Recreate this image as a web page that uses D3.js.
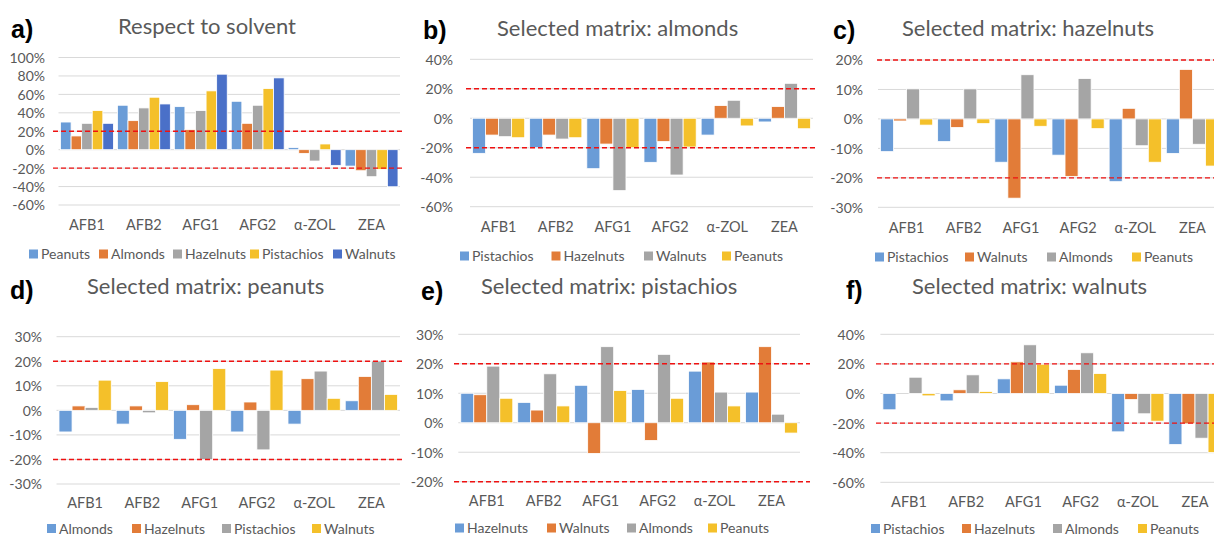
<!DOCTYPE html>
<html>
<head>
<meta charset="utf-8">
<script src="https://cdn.jsdelivr.net/npm/d3@7"></script>
<style>
  html, body { margin: 0; padding: 0; background: #fff; }
  svg { display: block; }
  .tick-label { font-family: Lato, "Open Sans", sans-serif; font-size: 14px; fill: #595959; }
  .cat-label { font-family: Lato, "Open Sans", sans-serif; font-size: 14.5px; fill: #595959; }
  .legend-label { font-family: Lato, "Open Sans", sans-serif; font-size: 14px; fill: #595959; }
  .title { font-family: Lato, "Open Sans", sans-serif; font-size: 22px; fill: #595959; }
  .panel-tag { font-family: "Liberation Sans", Arial, sans-serif; font-weight: bold; font-size: 25px; fill: #000; }
</style>
</head>
<body>
<svg id="chart" width="1214" height="538"></svg>
<script>
// Mycotoxins shown on the x axis of every panel
const categories = ["AFB1", "AFB2", "AFG1", "AFG2", "α-ZOL", "ZEA"];

// Colours in series order (first, second, third ... series of a panel)
const seriesColors = ["#6A9CD7", "#E27C38", "#A5A5A5", "#F4C02A", "#4A70C8"];

// a) matrix effect with respect to solvent (%)
const solventSeries = ["Peanuts", "Almonds", "Hazelnuts", "Pistachios", "Walnuts"];
const solventValues = [
  [30.0, 48.2, 46.7, 52.5, 2.2, -17.8],
  [14.9, 31.5, 21.7, 28.6, -4.0, -22.8],
  [28.6, 45.3, 42.4, 48.2, -12.3, -29.3],
  [42.4, 56.9, 63.8, 66.3, 6.2, -21.4],
  [28.6, 49.6, 81.9, 77.9, -17.0, -40.2]
];
const solventTicks = [-60, -40, -20, 0, 20, 40, 60, 80, 100];

// b) selected matrix: almonds
const almondsSeries = ["Pistachios", "Hazelnuts", "Walnuts", "Peanuts"];
const almondsValues = [
  [-23.8, -20.0, -34.2, -29.9, -11.4, -2.5],
  [-11.4, -11.4, -17.5, -15.8, 8.6, 7.9],
  [-12.5, -14.1, -49.1, -38.5, 12.2, 23.7],
  [-13.2, -13.2, -20.0, -19.5, -5.2, -7.1]
];
const almondsTicks = [-60, -40, -20, 0, 20, 40];

// c) selected matrix: hazelnuts
const hazelnutsSeries = ["Pistachios", "Walnuts", "Almonds", "Peanuts"];
const hazelnutsValues = [
  [-11.1, -7.7, -14.7, -12.3, -21.3, -11.7],
  [-0.7, -2.9, -26.9, -19.5, 3.6, 16.8],
  [10.2, 10.2, 15.0, 13.7, -9.1, -8.6],
  [-2.1, -1.6, -2.5, -3.3, -14.7, -16.0]
];
const hazelnutsTicks = [-30, -20, -10, 0, 10, 20];

// d) selected matrix: peanuts
const peanutsSeries = ["Almonds", "Hazelnuts", "Pistachios", "Walnuts"];
const peanutsValues = [
  [-8.8, -5.6, -11.8, -8.8, -5.6, 3.9],
  [1.8, 1.8, 2.3, 3.4, 12.9, 13.8],
  [1.2, -1.0, -20.1, -16.1, 16.0, 20.1],
  [12.3, 11.7, 17.0, 16.4, 4.9, 6.5]
];
const peanutsTicks = [-30, -20, -10, 0, 10, 20, 30];

// e) selected matrix: pistachios
const pistachiosSeries = ["Hazelnuts", "Walnuts", "Almonds", "Peanuts"];
const pistachiosValues = [
  [10.0, 6.9, 12.7, 11.3, 17.5, 10.4],
  [9.5, 4.3, -10.4, -6.0, 20.6, 25.8],
  [19.2, 16.6, 25.8, 23.2, 10.4, 2.9],
  [8.3, 5.7, 10.9, 8.3, 5.7, -3.5]
];
const pistachiosTicks = [-20, -10, 0, 10, 20, 30];

// f) selected matrix: walnuts
const walnutsSeries = ["Pistachios", "Hazelnuts", "Almonds", "Peanuts"];
const walnutsValues = [
  [-11.0, -5.0, 9.9, 5.6, -25.9, -34.5],
  [0.0, 2.5, 21.4, 16.2, -4.1, -20.5],
  [11.0, 12.6, 32.9, 27.5, -13.7, -30.2],
  [-1.6, 1.4, 19.8, 13.5, -18.7, -39.9]
];
const walnutsTicks = [-60, -40, -20, 0, 20, 40];

// Acceptance limits for the matrix effect (±20 %)
const limits = [20, -20];

// Panel layout (pixel frame of each plot) together with its data
const panels = [
  { tag: "a)", title: "Respect to solvent", series: solventSeries, values: solventValues, ticks: solventTicks,
    left: 58.5, right: 400, top: 57.5, bottom: 205, tagX: 11, tagY: 37.5, titleX: 118, titleY: 34,
    catY: 230, legY: 254, legX: [29, 99, 173, 250, 333], redX: [53, 405], tickX: 45 },
  { tag: "b)", title: "Selected matrix: almonds", series: almondsSeries, values: almondsValues, ticks: almondsTicks,
    left: 470, right: 813, top: 59.3, bottom: 206.7, tagX: 423, tagY: 38.5, titleX: 497, titleY: 35.5,
    catY: 231.5, legY: 256, legX: [460, 551.5, 644, 722], redX: [466, 816], tickX: 453 },
  { tag: "c)", title: "Selected matrix: hazelnuts", series: hazelnutsSeries, values: hazelnutsValues, ticks: hazelnutsTicks,
    left: 878, right: 1221, top: 60, bottom: 207.3, tagX: 833, tagY: 38.5, titleX: 902, titleY: 35.5,
    catY: 233, legY: 257, legX: [875, 965, 1047, 1132], redX: [877, 1214], tickX: 863 },
  { tag: "d)", title: "Selected matrix: peanuts", series: peanutsSeries, values: peanutsValues, ticks: peanutsTicks,
    left: 56.5, right: 400, top: 336.7, bottom: 484, tagX: 10, tagY: 298.5, titleX: 87, titleY: 293.5,
    catY: 507.5, legY: 528.5, legX: [47, 132, 222, 312], redX: [53, 405], tickX: 42 },
  { tag: "e)", title: "Selected matrix: pistachios", series: pistachiosSeries, values: pistachiosValues, ticks: pistachiosTicks,
    left: 458.3, right: 800, top: 334.3, bottom: 481.7, tagX: 421, tagY: 299.5, titleX: 481, titleY: 293.5,
    catY: 506, legY: 528, legX: [455, 547, 627, 708], redX: [454, 810], tickX: 443.5 },
  { tag: "f)", title: "Selected matrix: walnuts", series: walnutsSeries, values: walnutsValues, ticks: walnutsTicks,
    left: 880.4, right: 1223.6, top: 334.3, bottom: 482.3, tagX: 846, tagY: 298.5, titleX: 912, titleY: 293.5,
    catY: 506.5, legY: 528.5, legX: [871, 962, 1053, 1138], redX: [876, 1214], tickX: 865 }
];

const svg = d3.select("#chart");

panels.forEach(p => {
  const g = svg.append("g");
  const lo = d3.min(p.ticks), hi = d3.max(p.ticks);

  const x = d3.scaleBand().domain(categories).range([p.left, p.right]).paddingInner(0).paddingOuter(0);
  const y = d3.scaleLinear().domain([lo, hi]).range([p.bottom, p.top]);
  const inner = d3.scaleBand().domain(d3.range(p.series.length))
    .range([0, x.bandwidth()]).paddingOuter(0.19).paddingInner(0);

  // horizontal gridlines
  g.append("g").selectAll("line").data(p.ticks).join("line")
    .attr("x1", p.left).attr("x2", p.right)
    .attr("y1", d => y(d)).attr("y2", d => y(d))
    .attr("stroke", "#d9d9d9").attr("stroke-width", 1);

  // y tick labels via a left axis
  const yAxis = d3.axisLeft(y).tickValues(p.ticks).tickFormat(d => d + "%").tickSize(0).tickPadding(0);
  const ya = g.append("g").attr("transform", `translate(${p.tickX},0)`).call(yAxis);
  ya.select(".domain").remove();
  ya.selectAll("text").attr("class", "tick-label").attr("fill", null).attr("font-size", null).attr("font-family", null).attr("dy", "0.35em");

  // x category labels
  const xAxis = d3.axisBottom(x).tickSize(0).tickPadding(0);
  const xa = g.append("g").attr("transform", `translate(0,${p.catY})`).call(xAxis);
  xa.select(".domain").remove();
  xa.selectAll("text").attr("class", "cat-label").attr("fill", null).attr("font-size", null).attr("font-family", null).attr("dy", 0);

  // clustered bars
  p.series.forEach((s, si) => {
    g.append("g").selectAll("rect").data(p.values[si]).join("rect")
      .attr("x", (d, i) => x(categories[i]) + inner(si))
      .attr("width", inner.bandwidth())
      .attr("y", d => y(Math.max(0, d)))
      .attr("height", d => Math.abs(y(d) - y(0)))
      .attr("fill", seriesColors[si])
      .attr("stroke", "#fff").attr("stroke-width", 0.8);
  });

  // ±20 % limit lines
  g.append("g").selectAll("line").data(limits).join("line")
    .attr("x1", p.redX[0]).attr("x2", p.redX[1])
    .attr("y1", d => y(d)).attr("y2", d => y(d))
    .attr("stroke", "#ee1111").attr("stroke-width", 1.4)
    .attr("stroke-dasharray", "5,3");

  // panel tag and title
  g.append("text").attr("class", "panel-tag").attr("x", p.tagX).attr("y", p.tagY).text(p.tag);
  g.append("text").attr("class", "title").attr("x", p.titleX).attr("y", p.titleY).text(p.title);

  // legend
  const leg = g.append("g");
  p.series.forEach((s, si) => {
    leg.append("rect").attr("x", p.legX[si]).attr("y", p.legY - 4.5).attr("width", 9).attr("height", 9)
      .attr("fill", seriesColors[si]);
    leg.append("text").attr("class", "legend-label").attr("x", p.legX[si] + 12).attr("y", p.legY + 5).text(s);
  });
});
</script>
</body>
</html>
